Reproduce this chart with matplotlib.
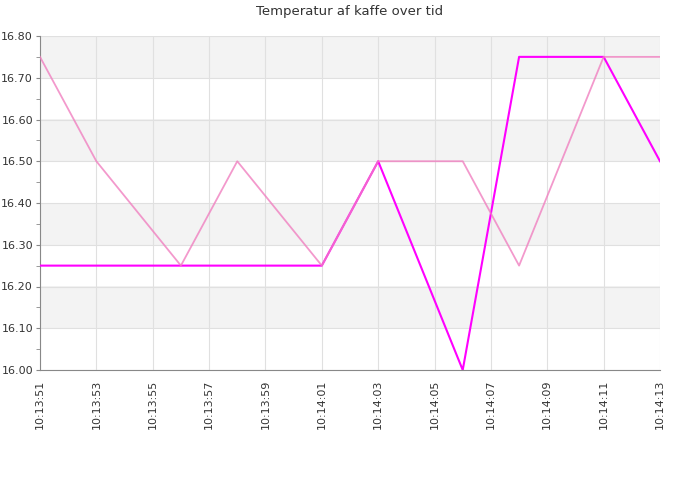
import matplotlib
matplotlib.use("Agg")
import matplotlib.pyplot as plt
import matplotlib.dates as mdates
from matplotlib.ticker import MultipleLocator
import pandas as pd

times = ["10:13:51", "10:13:53", "10:13:56", "10:13:58", "10:14:01",
         "10:14:03", "10:14:06", "10:14:08", "10:14:11", "10:14:13"]
series_a = [16.75, 16.50, 16.25, 16.50, 16.25, 16.50, 16.50, 16.25, 16.75, 16.75]
series_b = [16.25, 16.25, 16.25, 16.25, 16.25, 16.50, 16.00, 16.75, 16.75, 16.50]
title = "Temperatur af kaffe over tid"

t = pd.to_datetime(["2020-01-01 " + s for s in times])

fig = plt.figure(figsize=(7, 5), dpi=100)
ax = fig.add_axes([40/700, 1 - 370/500, 620/700, 334/500])

ymin, ymax = 16.0, 16.8
for i in range(8):
    lo = ymin + i * 0.1
    if i % 2 == 1:
        ax.axhspan(lo, lo + 0.1, color="#f3f3f3", zorder=0, lw=0)

ax.plot(t, series_b, color="#ff00ff", lw=1.5, zorder=3)
ax.plot(t, series_a, color="#f080c0", lw=1.3, alpha=0.8, zorder=4)

ax.set_xlim(t[0], t[-1])
ax.set_ylim(ymin, ymax)
ax.xaxis.set_major_locator(mdates.SecondLocator(bysecond=range(1, 60, 2)))
ax.xaxis.set_major_formatter(mdates.DateFormatter("%H:%M:%S"))
ax.yaxis.set_major_locator(MultipleLocator(0.1))
ax.yaxis.set_minor_locator(MultipleLocator(0.05))
ax.yaxis.set_major_formatter(matplotlib.ticker.FormatStrFormatter("%.2f"))

ax.grid(True, which="major", color="#e0e0e0", lw=0.8, zorder=1)
ax.set_axisbelow(True)
for s in ["top", "right"]:
    ax.spines[s].set_visible(False)
for s in ["left", "bottom"]:
    ax.spines[s].set_color("#888888")
ax.tick_params(axis="x", labelrotation=90, labelsize=8, colors="#888888",
               labelcolor="#333333", length=0, pad=7)
ax.tick_params(axis="y", which="major", labelsize=8, colors="#888888",
               labelcolor="#333333", length=3, pad=2)
ax.tick_params(axis="y", which="minor", colors="#888888", length=3)

fig.text(0.5, 1 - 11/500, title, ha="center", va="center", fontsize=9.5, color="#333333")

fig.savefig("out.png", dpi=100)
